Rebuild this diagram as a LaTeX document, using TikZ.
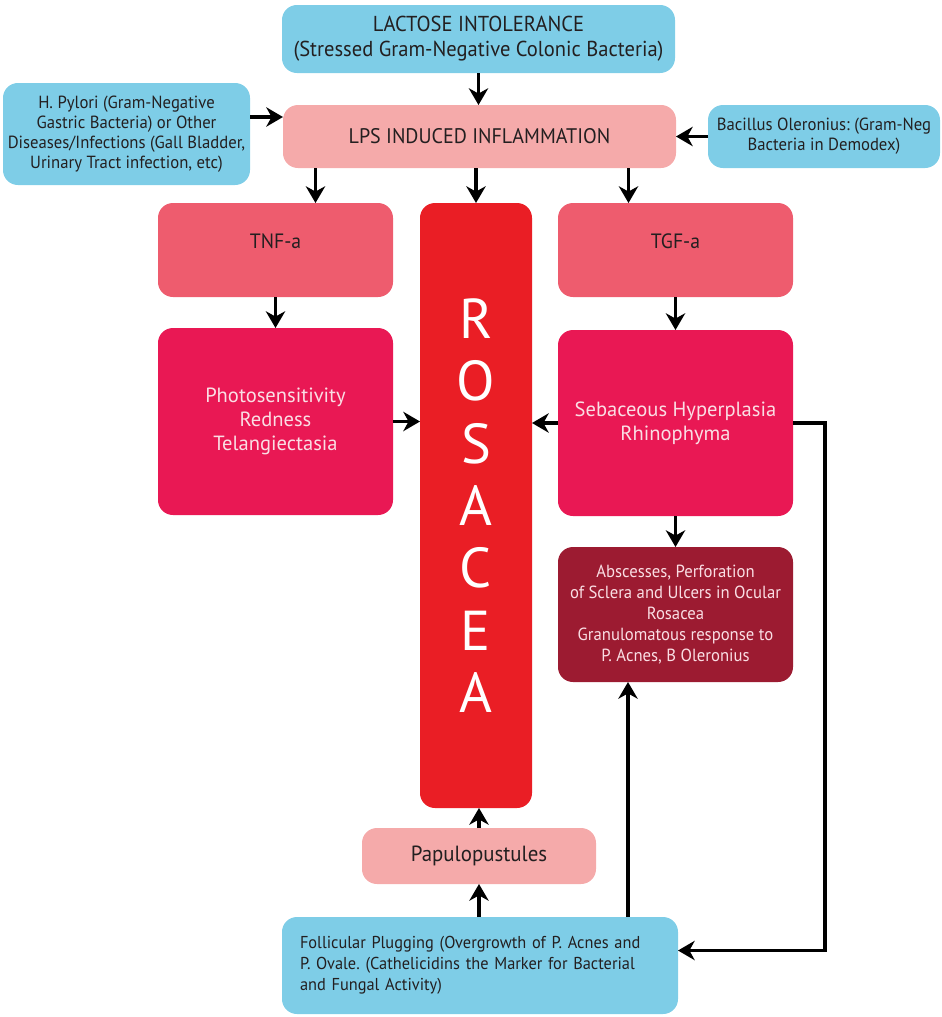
\documentclass[tikz,border=0pt]{standalone}
\usepackage{fontspec}
\setmainfont{PT Sans}
\newfontfamily\condfont[FakeStretch=0.95]{PT Sans}
\usetikzlibrary{arrows.meta, calc, positioning}
\definecolor{skyfill}{RGB}{126,205,231}
\definecolor{lpsfill}{RGB}{245,170,170}
\definecolor{tnffill}{RGB}{238,92,110}
\definecolor{rosfill}{RGB}{234,30,37}
\definecolor{symfill}{RGB}{233,24,84}
\definecolor{absfill}{RGB}{156,27,49}
\definecolor{inktext}{RGB}{35,31,32}
\definecolor{palepink}{RGB}{250,222,228}
\tikzstyle{box} = [rectangle, rounded corners=8.5pt, inner sep=1pt, outer sep=0pt, align=center]
\tikzstyle{cause} = [box, fill=skyfill, text=inktext, font=\condfont\fontsize{10}{11.5}\selectfont]
\tikzstyle{effect} = [box, fill=symfill, text=palepink, font=\fontsize{11.7}{13.8}\selectfont]
\tikzstyle{growth} = [box, fill=tnffill, text=inktext, text depth=3.5mm, font=\condfont\fontsize{11.8}{14}\selectfont]
\tikzstyle{arrow} = [line width=1.9pt, -{Stealth[length=9.5pt,width=11pt,inset=3pt]}]
\tikzset{boxsize/.style 2 args={minimum width=#1*0.2mm, minimum height=#2*0.2mm}}
\frenchspacing
\begin{document}
\begin{tikzpicture}[x=0.2mm, y=-0.2mm]
\useasboundingbox (0,0) rectangle (942,1017);

\node[cause, boxsize={393}{68}, font=\condfont\fontsize{12.3}{14.2}\selectfont] (lactose) at (478.5,39) {LACTOSE INTOLERANCE\\(Stressed Gram-Negative Colonic Bacteria)};
\node[cause, boxsize={247}{102}] (pylori) at (126.5,134) {H. Pylori (Gram-Negative\\Gastric Bacteria) or Other\\Diseases/Infections (Gall Bladder,\\Urinary Tract infection, etc)};
\node[box, fill=lpsfill, text=inktext, boxsize={393}{63}, font=\condfont\fontsize{12}{14}\selectfont] (lps) at (479.5,136.5) {LPS INDUCED INFLAMMATION};
\node[cause, boxsize={232}{63}] (bacillus) at (824,136.5) {Bacillus Oleronius: (Gram-Neg\\Bacteria in Demodex)};

\node[growth, boxsize={235}{94}] (tnf) at (275.5,250) {TNF-a};
\node[growth, boxsize={235}{94}] (tgf) at (675.5,250) {TGF-a};
\node[box, fill=rosfill, text=white, boxsize={112}{605}, font=\fontsize{32}{35.5}\selectfont] (rosacea) at (476,505.5) {R\\O\\S\\A\\C\\E\\A};

\node[effect, boxsize={235}{187}] (photo) at (275.5,421.5) {Photosensitivity\\Redness\\Telangiectasia};
\node[effect, boxsize={235}{186}] (sebac) at (675.5,423) {Sebaceous Hyperplasia\\Rhinophyma};
\node[box, fill=absfill, text=palepink, boxsize={235}{135}, font=\condfont\fontsize{10}{11.9}\selectfont] (absc) at (675.5,614.5) {Abscesses, Perforation\\of Sclera and Ulcers in Ocular\\Rosacea\\Granulomatous response to\\P. Acnes, B Oleronius};

\node[box, fill=lpsfill, text=inktext, boxsize={234}{56}, font=\condfont\fontsize{12.5}{14}\selectfont] (papulo) at (479,856) {Papulopustules};
\node[cause, boxsize={396}{97}, text width=72mm, align=left, font=\condfont\fontsize{9.8}{12}\selectfont] (follic) at (480,965.5) {Follicular Plugging (Overgrowth of P. Acnes and\\P. Ovale. (Cathelicidins the Marker for Bacterial\\and Fungal Activity)};

\coordinate (pyl) at ($(pylori.east)+(0,-17)$);
\coordinate (toTnf) at ($(lps.south)+(-164,0)$);
\coordinate (toTgf) at ($(lps.south)+(149,0)$);
\coordinate (bend) at ($(sebac.east)+(32,0)$);
\coordinate (loop) at ($(follic.east)+(0,-15)$);
\coordinate (up) at ($(follic.north)+(148,0)$);

\draw[arrow] (lactose.south) -- (lactose.south |- lps.north);
\draw[arrow] (pyl) -- (pyl -| lps.west);
\draw[arrow] (bacillus.west) -- (bacillus.west -| lps.east);
\draw[arrow] (toTnf) -- (toTnf |- tnf.north);
\draw[arrow] (lps.south -| rosacea.north) -- (rosacea.north);
\draw[arrow] (toTgf) -- (toTgf |- tgf.north);
\draw[arrow] (tnf.south) -- (photo.north);
\draw[arrow] (tgf.south) -- (sebac.north);
\draw[arrow] (photo.east) -- (photo.east -| rosacea.west);
\draw[arrow] (sebac.west) -- (sebac.west -| rosacea.east);
\draw[arrow] (sebac.south) -- (absc.north);
\draw[arrow] (sebac.east) -- (bend) |- (loop);
\draw[arrow] (up) -- (up |- absc.south);
\draw[arrow] (papulo.south |- follic.north) -- (papulo.south);
\draw[arrow] (papulo.north) -- (papulo.north |- rosacea.south);
\end{tikzpicture}
\end{document}
